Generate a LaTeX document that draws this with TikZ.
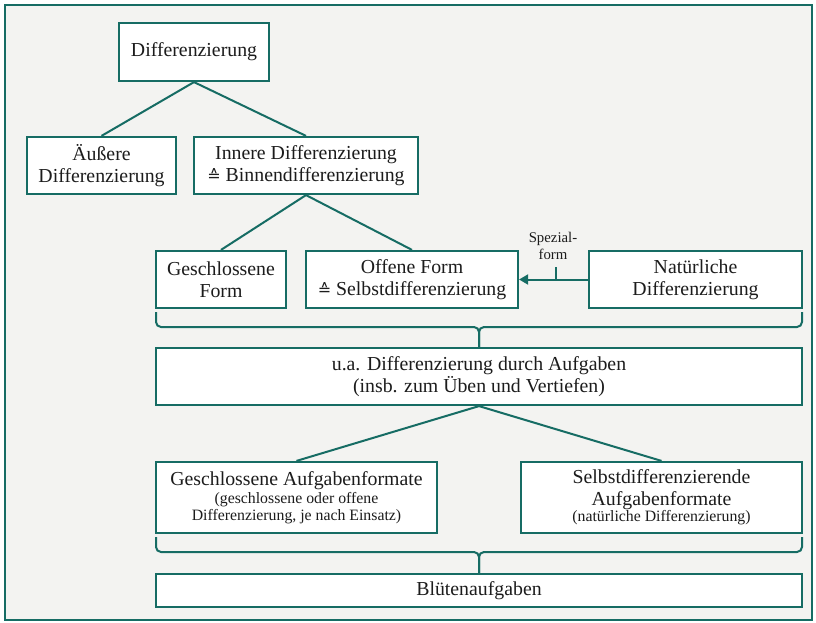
\documentclass[tikz,border=0pt]{standalone}
\usepackage{fontspec}
\setmainfont{Liberation Serif}
\newfontfamily\symfont{DejaVu Sans}
\usetikzlibrary{arrows.meta}

\definecolor{teal}{RGB}{22,108,100}
\definecolor{panel}{RGB}{243,243,241}
\definecolor{ink}{RGB}{28,28,28}

\newcommand{\corr}{{\symfont\fontsize{16}{16}\selectfont ≙}}
\newcommand{\smalltxt}{\fontsize{15.8}{17.5}\selectfont}

\tikzset{
  bx/.style={draw=teal, line width=2.2pt, fill=white, inner sep=0pt,
    align=center, text=ink, font=\fontsize{19.8}{22}\selectfont},
  link/.style={draw=teal, line width=2pt},
  brace/.style={draw=teal, line width=2pt, rounded corners=5pt},
}

\begin{document}
\begin{tikzpicture}[x=1pt, y=-1pt]
  \useasboundingbox (0,0) rectangle (816,623);
  % panel
  \draw[teal, line width=2pt, fill=panel] (5,5) rectangle (812,620);

  % level 1 and 2
  \node[bx, minimum width=150pt, minimum height=58pt] (top) at (194,52) {Differenzierung};
  \node[bx, minimum width=149pt, minimum height=57pt] (aeu) at (101.5,165.5) {Äußere\\Differenzierung};
  \node[bx, minimum width=224pt, minimum height=57pt] (inn) at (306,165.5) {Innere Differenzierung\\\corr\ Binnendifferenzierung};

  % level 3
  \node[bx, minimum width=130pt, minimum height=57pt] (ges) at (221,279.5) {Geschlossene\\Form};
  \node[bx, minimum width=212pt, minimum height=57pt] (off) at (412,279.5) {Offene Form\\\corr\ Selbstdifferenzierung};
  \node[bx, minimum width=213pt, minimum height=57pt] (nat) at (695.5,279.5) {Natürliche\\Differenzierung};

  % level 4
  \node[bx, minimum width=646pt, minimum height=57pt] (mid) at (479,376.5) {u.a. Differenzierung durch Aufgaben\\(insb. zum Üben und Vertiefen)};

  % level 5
  \node[bx, minimum width=281pt, minimum height=71pt] (gaf) at (296.5,497.5)
    {Geschlossene Aufgabenformate\\[-4pt]\smalltxt (geschlossene oder offene\\[-5pt]\smalltxt Differenzierung, je nach Einsatz)};
  \node[bx, minimum width=281pt, minimum height=71pt] (saf) at (661.5,497.5)
    {Selbstdifferenzierende\\Aufgabenformate\\[-6pt]\smalltxt (natürliche Differenzierung)};

  % level 6
  \node[bx, minimum width=646pt, minimum height=33pt] (blu) at (479,590.5) {Blütenaufgaben};

  % tree links
  \draw[link] (top.south) -- (aeu.north);
  \draw[link] (top.south) -- (inn.north);
  \draw[link] (inn.south) -- (ges.north);
  \draw[link] (inn.south) -- (off.north);
  \draw[link] (mid.south) -- (gaf.north);
  \draw[link] (mid.south) -- (saf.north);

  % special-form arrow
  \coordinate (tick) at (556,267);
  \draw[link, -{Triangle[length=9pt,width=10pt]}] (nat.west) -- (off.east);
  \draw[link] (tick) -- (tick |- nat.west);
  \node[text=ink, align=center, font=\fontsize{14.8}{17}\selectfont] (spz) at (553,246) {Spezial-\\form};

  % braces joining rows
  \coordinate (b1l) at (156,312);
  \coordinate (b1r) at (802,312);
  \coordinate (b1m) at (479,327);
  \draw[brace] (b1l) |- (b1m) -- (mid.north);
  \draw[brace] (b1r) |- (b1m) -- (mid.north);

  \coordinate (b2l) at (156,537);
  \coordinate (b2r) at (802,537);
  \coordinate (b2m) at (479,552);
  \draw[brace] (b2l) |- (b2m) -- (blu.north);
  \draw[brace] (b2r) |- (b2m) -- (blu.north);
\end{tikzpicture}
\end{document}
